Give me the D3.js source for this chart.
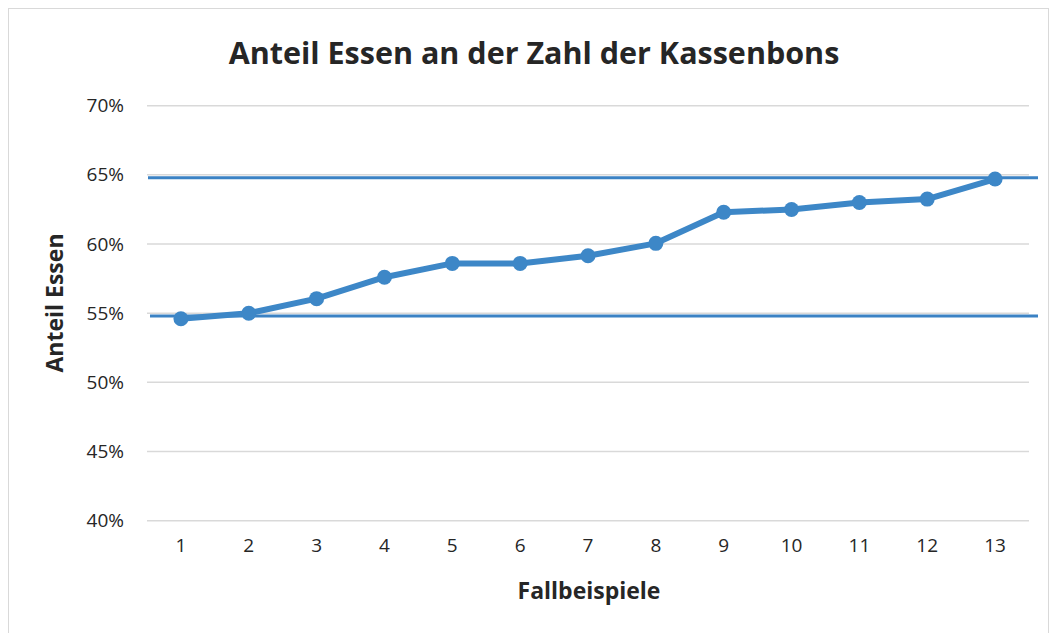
<!DOCTYPE html>
<html>
<head>
<meta charset="utf-8">
<script src="https://cdn.jsdelivr.net/npm/d3@7"></script>
<style>
	body { margin: 0; background: #fff; }
	svg { display: block; }
	text { font-family: 'Open Sans', 'Noto Sans', sans-serif; fill: #262626; }
</style>
</head>
<body>
<div id="chart"></div>
<script>
// chart data
const cases = ['1', '2', '3', '4', '5', '6', '7', '8', '9', '10', '11', '12', '13']
const shareFood = [0.546, 0.550, 0.5605, 0.576, 0.586, 0.586, 0.5915, 0.6005, 0.623, 0.625, 0.630, 0.6325, 0.647]
const yTicks = [0.40, 0.45, 0.50, 0.55, 0.60, 0.65, 0.70]
const refLines = [0.648, 0.548]

const width = 1057
const height = 633
const margin = { top: 106, right: 26, bottom: 112, left: 147 }

const svg = d3
	.select('#chart')
	.append('svg')
	.attr('width', width)
	.attr('height', height)

// chart border
svg.append('rect')
	.attr('x', 8.5)
	.attr('y', 8.5)
	.attr('width', 1040)
	.attr('height', 640)
	.attr('fill', 'none')
	.attr('stroke', '#d9d9d9')
	.attr('stroke-width', 1)

const x = d3
	.scaleBand()
	.domain(cases)
	.range([margin.left, width - margin.right - 2])

const y = d3
	.scaleLinear()
	.domain([0.40, 0.70])
	.range([520.7, 105.7])

// gridlines
svg.append('g')
	.selectAll('line')
	.data(yTicks)
	.enter()
	.append('line')
	.attr('x1', margin.left)
	.attr('x2', x.range()[1])
	.attr('y1', d => y(d))
	.attr('y2', d => y(d))
	.attr('stroke', '#d9d9d9')
	.attr('stroke-width', 1.5)

// y axis labels
const yAxis = svg.append('g')
	.attr('transform', `translate(${margin.left},0)`)
	.call(d3.axisLeft(y).tickValues(yTicks).tickFormat(d3.format('.0%')).tickSize(0).tickPadding(23))
yAxis.select('.domain').remove()
yAxis.selectAll('text')
	.style('font-size', '19px')
	.attr('fill', '#404040')

// x axis labels
const xAxis = svg.append('g')
	.attr('transform', 'translate(0,520.7)')
	.call(d3.axisBottom(x).tickSize(0).tickPadding(18))
xAxis.select('.domain').remove()
xAxis.selectAll('text')
	.style('font-size', '19px')
	.attr('fill', '#404040')

// reference lines
svg.append('g')
	.selectAll('line')
	.data(refLines)
	.enter()
	.append('line')
	.attr('x1', (d, i) => (i === 0 ? 148 : 150))
	.attr('x2', 1038)
	.attr('y1', d => y(d))
	.attr('y2', d => y(d))
	.attr('stroke', '#3b82c4')
	.attr('stroke-width', 3)

// data line
const line = d3
	.line()
	.x((d, i) => x(cases[i]) + x.bandwidth() / 2)
	.y(d => y(d))

svg.append('path')
	.datum(shareFood)
	.attr('d', line)
	.attr('fill', 'none')
	.attr('stroke', '#3d87c7')
	.attr('stroke-width', 6)
	.attr('stroke-linejoin', 'round')

svg.append('g')
	.selectAll('circle')
	.data(shareFood)
	.enter()
	.append('circle')
	.attr('cx', (d, i) => x(cases[i]) + x.bandwidth() / 2)
	.attr('cy', d => y(d))
	.attr('r', 7.5)
	.attr('fill', '#3d87c7')

// titles
svg.append('text')
	.attr('x', 534)
	.attr('y', 64)
	.attr('text-anchor', 'middle')
	.style('font-size', '30.5px')
	.style('font-weight', 'bold')
	.text('Anteil Essen an der Zahl der Kassenbons')

svg.append('text')
	.attr('x', 589)
	.attr('y', 599)
	.attr('text-anchor', 'middle')
	.style('font-size', '23px')
	.style('font-weight', 'bold')
	.text('Fallbeispiele')

svg.append('text')
	.attr('transform', 'translate(63,303) rotate(-90)')
	.attr('text-anchor', 'middle')
	.style('font-size', '23px')
	.style('font-weight', 'bold')
	.text('Anteil Essen')
</script>
</body>
</html>
